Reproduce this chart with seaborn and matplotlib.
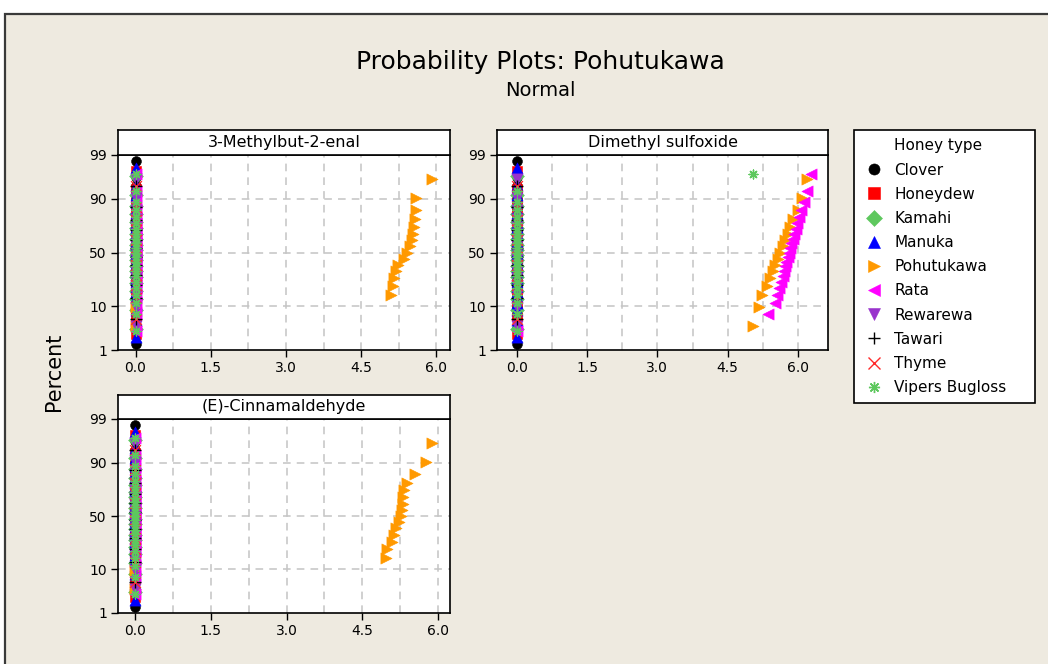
import matplotlib
matplotlib.use("Agg")
import matplotlib.pyplot as plt
import seaborn as sns
import pandas as pd
from statistics import NormalDist
from matplotlib.lines import Line2D
from matplotlib.patches import Rectangle
from matplotlib.ticker import MultipleLocator, FixedLocator, FormatStrFormatter

# ---------------------------------------------------------------- data
honey_types = ["Clover", "Honeydew", "Kamahi", "Manuka", "Pohutukawa",
               "Rata", "Rewarewa", "Tawari", "Thyme", "Vipers Bugloss"]
sample_sizes = [48, 26, 20, 32, 17, 23, 17, 12, 12, 23]

compounds = ["3-Methylbut-2-enal", "Dimethyl sulfoxide", "(E)-Cinnamaldehyde"]

# non-zero concentrations; every other sample of a honey type is 0.0
methylbutenal_pohutukawa = [5.09, 5.13, 5.16, 5.20, 5.23, 5.35, 5.41, 5.47,
                            5.51, 5.53, 5.56, 5.58, 5.60, 5.60, 5.91]
dmso_pohutukawa = [5.05, 5.16, 5.23, 5.33, 5.40, 5.46, 5.51, 5.57, 5.62,
                   5.67, 5.72, 5.78, 5.84, 5.90, 5.99, 6.09, 6.19]
dmso_rata = [5.37, 5.51, 5.56, 5.60, 5.64, 5.67, 5.70, 5.73, 5.75, 5.78, 5.81,
             5.83, 5.86, 5.89, 5.92, 5.95, 5.98, 6.02, 6.07, 6.12, 6.19, 6.28]
dmso_vipers_bugloss = [5.04]
cinnamaldehyde_pohutukawa = [4.97, 5.00, 5.10, 5.14, 5.17, 5.23, 5.26, 5.28,
                             5.30, 5.31, 5.33, 5.38, 5.55, 5.76, 5.88]

percent_ticks = [1, 10, 50, 90, 99]
percent_grid = [10, 50, 90]

# ---------------------------------------------------------------- styling
honey_colors = ["#000000", "#FF0000", "#5EC85E", "#0000FF", "#FF9900",
                "#FF00FF", "#9933CC", "#000000", "#FF2A2A", "#5EC85E"]
honey_markers = ["o", "s", "D", "^", ">", "<", "v", "+", "x", (8, 2, 0)]
marker_area = [50, 45, 50, 65, 65, 65, 65, 80, 60, 40]

nonzero = {
    "3-Methylbut-2-enal": {"Pohutukawa": methylbutenal_pohutukawa},
    "Dimethyl sulfoxide": {"Pohutukawa": dmso_pohutukawa,
                           "Rata": dmso_rata,
                           "Vipers Bugloss": dmso_vipers_bugloss},
    "(E)-Cinnamaldehyde": {"Pohutukawa": cinnamaldehyde_pohutukawa},
}

# normal probability plot positions (median ranks)
nd = NormalDist()
rows = []
for comp in compounds:
    for ht, n in zip(honey_types, sample_sizes):
        extra = nonzero[comp].get(ht, [])
        vals = sorted([0.0] * (n - len(extra)) + list(extra))
        for i, v in enumerate(vals, start=1):
            p = (i - 0.3) / (n + 0.4)
            rows.append((comp, ht, v, nd.inv_cdf(p)))
df = pd.DataFrame(rows, columns=["compound", "honey", "value", "z"])

# ---------------------------------------------------------------- figure
W, H = 1048, 664
fig = plt.figure(figsize=(W / 100, H / 100), dpi=100, facecolor="white")
plt.rcParams["font.family"] = ["DejaVu Sans"]

fig.patches.append(Rectangle((5 / W, -0.02), 1.0, 1 - 14 / H + 0.02,
                             transform=fig.transFigure, facecolor="#EEEAE0",
                             edgecolor="#3A3A3A", linewidth=1.6, zorder=-5))


def px_axes(left, top, right, bottom):
    return fig.add_axes([left / W, 1 - bottom / H,
                         (right - left) / W, (bottom - top) / H])


panels = [
    ("3-Methylbut-2-enal", (118, 155, 450, 350), (118, 130, 450, 155), (-0.35, 6.27)),
    ("Dimethyl sulfoxide", (497, 155, 828, 350), (497, 130, 828, 155), (-0.42, 6.64)),
    ("(E)-Cinnamaldehyde", (118, 419, 450, 613), (118, 395, 450, 419), (-0.34, 6.24)),
]

zlim = (nd.inv_cdf(0.01), nd.inv_cdf(0.99))
ztick = [nd.inv_cdf(p / 100) for p in percent_ticks]
grid_kw = dict(color="#C4C4C4", linestyle=(0, (5, 4)), linewidth=1.1, zorder=0.5)

for comp, plot_box, head_box, xlim in panels:
    ax = px_axes(*plot_box)
    ax.set_facecolor("white")
    sub = df[df["compound"] == comp]
    for ht, col, mk, s in zip(honey_types, honey_colors, honey_markers, marker_area):
        part = sub[sub["honey"] == ht]
        line_art = mk in ("+", "x") or isinstance(mk, tuple)
        sns.scatterplot(data=part, x="value", y="z", ax=ax, marker=mk,
                        color=col, s=s, linewidth=1.0 if line_art else 0.4,
                        edgecolor=col if not line_art else None,
                        legend=False, zorder=3)
    ax.set_xlim(*xlim)
    ax.set_ylim(*zlim)
    ax.set_xlabel("")
    ax.set_ylabel("")
    ax.xaxis.set_major_locator(MultipleLocator(1.5))
    ax.xaxis.set_major_formatter(FormatStrFormatter("%.1f"))
    ax.yaxis.set_major_locator(FixedLocator(ztick))
    ax.set_yticklabels([str(p) for p in percent_ticks])
    ax.tick_params(axis="both", which="major", direction="out", length=5,
                   width=1, labelsize=10, colors="black", pad=3,
                   top=False, right=False)
    # dashed reference grid
    k = 0.0
    while k <= xlim[1]:
        ax.axvline(k, **grid_kw)
        k += 0.75
    for p in percent_grid:
        ax.axhline(nd.inv_cdf(p / 100), **grid_kw)
    for sp in ax.spines.values():
        sp.set_color("black")
        sp.set_linewidth(1.2)
        sp.set_zorder(4)

    hx = px_axes(*head_box)
    hx.set_facecolor("white")
    hx.set_xticks([])
    hx.set_yticks([])
    for sp in hx.spines.values():
        sp.set_color("black")
        sp.set_linewidth(1.2)
    hx.text(0.5, 0.5, comp, ha="center", va="center", fontsize=11.5,
            transform=hx.transAxes)

# ---------------------------------------------------------------- titles
fig.text(540 / W, 1 - 62 / H, "Probability Plots: Pohutukawa",
         ha="center", va="center", fontsize=18)
fig.text(540 / W, 1 - 90 / H, "Normal", ha="center", va="center", fontsize=14)
fig.text(54 / W, 1 - 372 / H, "Percent", ha="center", va="center",
         rotation=90, fontsize=15)

# ---------------------------------------------------------------- legend
handles = [Line2D([], [], linestyle="none")]
labels = ["Honey type"]
for ht, col, mk in zip(honey_types, honey_colors, honey_markers):
    line_art = mk in ("+", "x") or isinstance(mk, tuple)
    handles.append(Line2D([], [], linestyle="none", marker=mk, color=col,
                          markersize=8, markeredgewidth=1.0 if line_art else 0.4))
    labels.append(ht)
leg = fig.legend(handles, labels, loc="upper left",
                 bbox_to_anchor=(854 / W, 1 - 130 / H, (1035 - 854) / W, 0.0),
                 bbox_transform=fig.transFigure, mode="expand",
                 borderaxespad=0, frameon=True, fancybox=False,
                 edgecolor="black", framealpha=1, fontsize=11,
                 labelspacing=0.6, handlelength=1.5, handletextpad=0.6,
                 borderpad=0.55)
leg.get_frame().set_linewidth(1.2)

fig.savefig("out.png", dpi=100, facecolor=fig.get_facecolor())
